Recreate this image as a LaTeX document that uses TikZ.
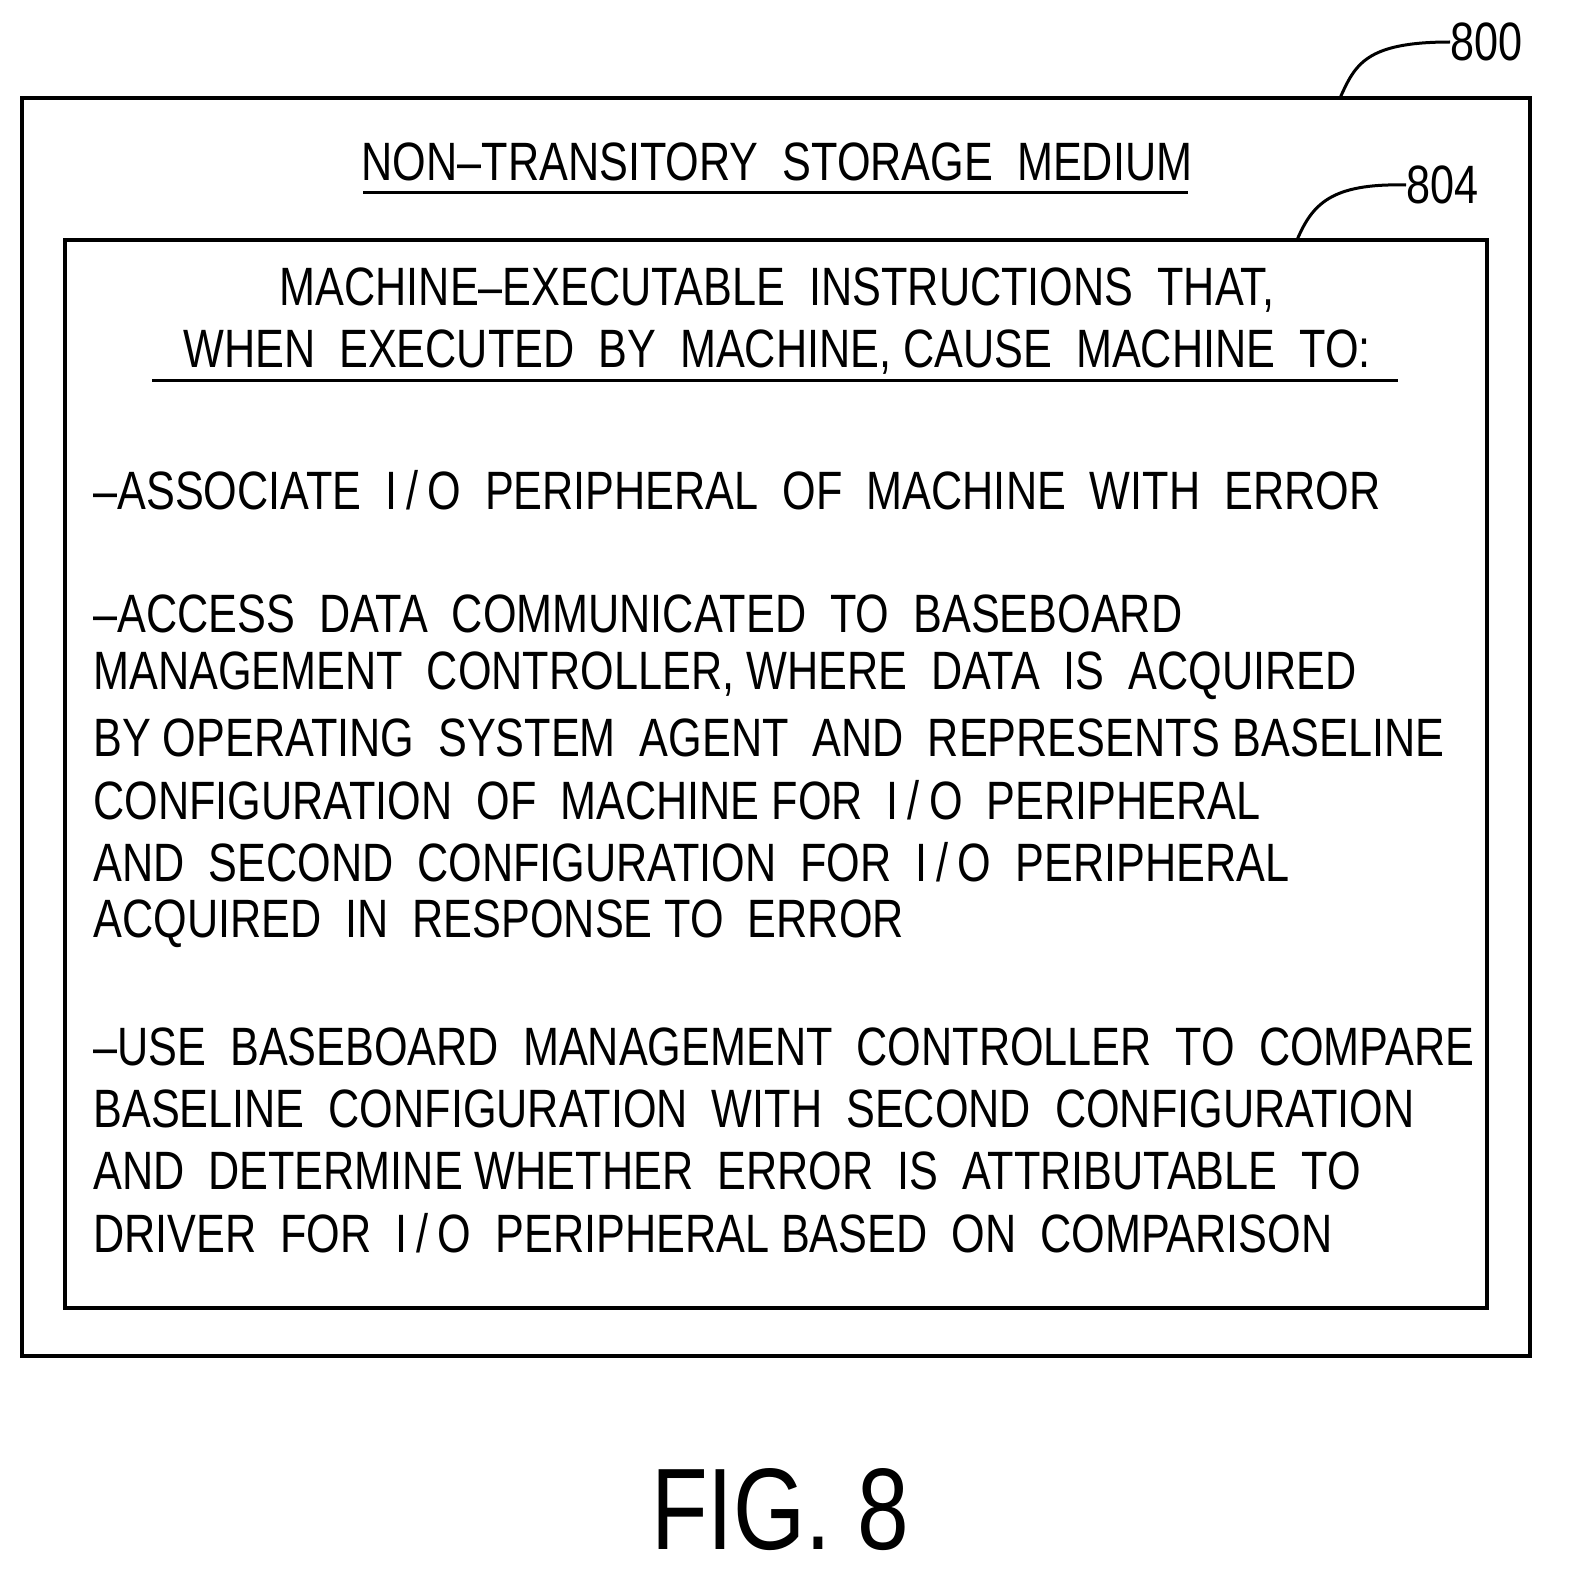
\documentclass[tikz,border=0pt]{standalone}
\usepackage{fontspec}
\setmainfont[FakeStretch=0.8]{Liberation Sans}
\begin{document}
\begin{tikzpicture}[x=0.5pt,y=-0.5pt,
  box/.style={draw,line width=2pt},
  txt/.style={font=\fontsize{27}{30}\selectfont,inner sep=0pt},
  lead/.style={line width=1.5pt}]
\useasboundingbox (0,0) rectangle (1580,1595);
\draw[box] (22,98) rectangle (1530,1356);
\draw[box] (65,240) rectangle (1487,1308);
\node[txt] (t) at (777,162) {NON--TRANSITORY\ \ STORAGE\ \ MEDIUM};
\draw[lead] (363,192) -- (1188,192);
\node[txt] (h1) at (777,290) {MACHINE--EXECUTABLE\ \ INSTRUCTIONS\ \ THAT,};
\node[txt] (h2) at (777,352) {WHEN\ \ EXECUTED\ \ BY\ \ MACHINE, CAUSE\ \ MACHINE\ \ TO:};
\draw[lead] (152,380) -- (1398,380);
\foreach \y/\s [count=\i] in {
 490/{--ASSOCIATE\ \ I\,/\,O\ \ PERIPHERAL\ \ OF\ \ MACHINE\ \ WITH\ \ ERROR},
 614/{--ACCESS\ \ DATA\ \ COMMUNICATED\ \ TO\ \ BASEBOARD},
 676/{MANAGEMENT\ \ CONTROLLER, WHERE\ \ DATA\ \ IS\ \ ACQUIRED},
 738/{BY\ OPERATING\ \ SYSTEM\ \ AGENT\ \ AND\ \ REPRESENTS\ BASELINE},
 800/{CONFIGURATION\ \ OF\ \ MACHINE\ FOR\ \ I\,/\,O\ \ PERIPHERAL},
 862/{AND\ \ SECOND\ \ CONFIGURATION\ \ FOR\ \ I\,/\,O\ \ PERIPHERAL},
 924/{ACQUIRED\ \ IN\ \ RESPONSE\ TO\ \ ERROR},
 1047/{--USE\ \ BASEBOARD\ \ MANAGEMENT\ \ CONTROLLER\ \ TO\ \ COMPARE},
 1109/{BASELINE\ \ CONFIGURATION\ \ WITH\ \ SECOND\ \ CONFIGURATION},
 1171/{AND\ \ DETERMINE\ WHETHER\ \ ERROR\ \ IS\ \ ATTRIBUTABLE\ \ TO},
 1233/{DRIVER\ \ FOR\ \ I\,/\,O\ \ PERIPHERAL\ BASED\ \ ON\ \ COMPARISON}}
 \node[txt,anchor=west] (l\i) at (93,\y) {\s};
\node[txt,anchor=west] (n800) at (1450,42) {800};
\node[txt,anchor=west] (n804) at (1406,185) {804};
\draw[lead] (1340,98) .. controls (1355,65) and (1365,42) .. (n800.west);
\draw[lead] (1297,240) .. controls (1312,205) and (1330,183) .. (n804.west);
\node[inner sep=0pt,font=\fontsize{58}{66}\selectfont] (fig) at (780,1510) {FIG. 8};
\end{tikzpicture}
\end{document}
